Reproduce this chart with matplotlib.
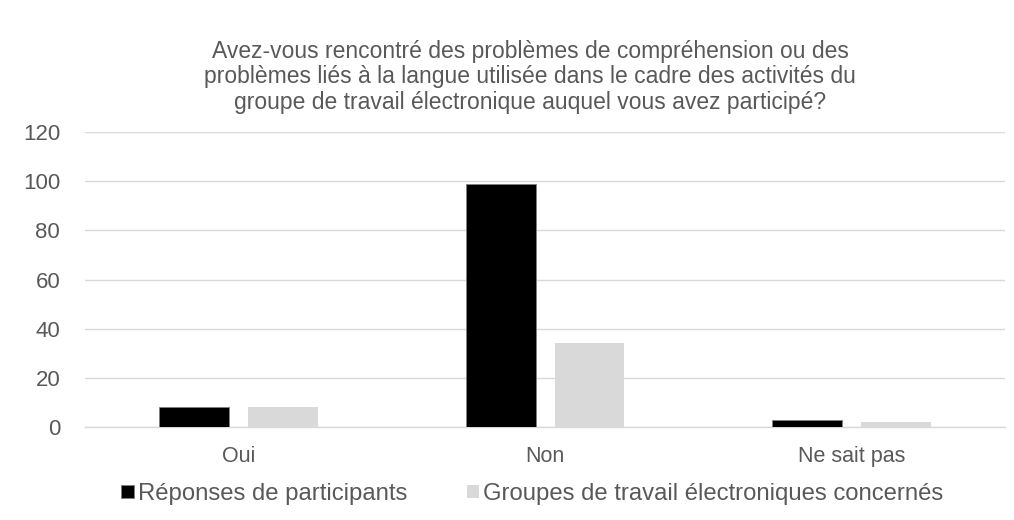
import matplotlib.pyplot as plt
import numpy as np

plt.rcParams['font.family'] = ['Liberation Sans', 'DejaVu Sans']

categories = ["Oui", "Non", "Ne sait pas"]
participants = [8, 99, 3]
groupes = [8, 34, 2]
series_names = ["Réponses de participants",
                "Groupes de travail électroniques concernés"]
title = ("Avez-vous rencontré des problèmes de compréhension ou des\n"
         "problèmes liés à la langue utilisée dans le cadre des activités du\n"
         "groupe de travail électronique auquel vous avez participé?")

TEXT = "#595959"
GRID = "#D9D9D9"

fig = plt.figure(figsize=(10.14, 5.2), dpi=100)
ax = fig.add_axes([0.084, 0.179, 0.907, 0.567])

x = np.arange(len(categories))
w = 0.228
off = 0.145
ax.bar(x - off, participants, w, color="black", edgecolor="#7f7f7f",
       linewidth=0.6, label=series_names[0], zorder=3)
ax.bar(x + off, groupes, w, color=GRID, label=series_names[1], zorder=3)

ax.set_xlim(-0.5, 2.5)
ax.set_ylim(0, 120)
ax.set_yticks(range(0, 121, 20))
ax.yaxis.grid(True, color=GRID, linewidth=1)
ax.set_axisbelow(True)
for s in ["top", "right", "left"]:
    ax.spines[s].set_visible(False)
ax.spines["bottom"].set_color(GRID)
ax.spines["bottom"].set_linewidth(1)
ax.tick_params(length=0, colors=TEXT)
ax.tick_params(axis="x", labelsize=15.5, pad=14)
ax.tick_params(axis="y", labelsize=16, pad=18)
ax.set_xticks(x)
ax.set_xticklabels(categories)

fig.text(0.523, 0.852, title, ha="center", va="center", fontsize=16.5,
         color=TEXT, linespacing=1.12)

leg = fig.legend(loc="center", bbox_to_anchor=(0.525, 0.05), ncol=2,
                 frameon=False, fontsize=17.2, handlelength=0.52,
                 handleheight=0.52, handletextpad=0.17, columnspacing=2.5)
for t in leg.get_texts():
    t.set_color(TEXT)

fig.savefig("out.png", dpi=100)
